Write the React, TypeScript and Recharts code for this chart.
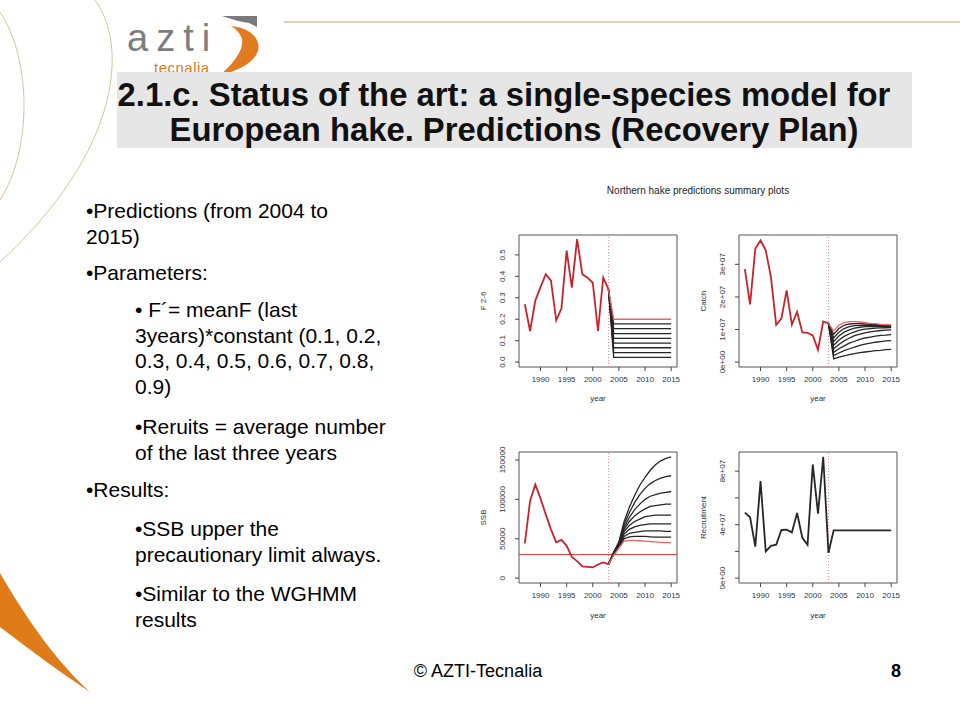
import React from "react";
import {
  LineChart,
  Line,
  XAxis,
  YAxis,
  ReferenceLine,
  ReferenceArea,
} from "recharts";

// years
const histYears = [1987, 1988, 1989, 1990, 1991, 1992, 1993, 1994, 1995, 1996, 1997, 1998, 1999, 2000, 2001, 2002, 2003];
const projYears = [2004, 2005, 2006, 2007, 2008, 2009, 2010, 2011, 2012, 2013, 2014, 2015];
const xTicks = [1990, 1995, 2000, 2005, 2010, 2015];

// F 2-6
const fHist = [0.27, 0.145, 0.287, 0.35, 0.41, 0.38, 0.195, 0.25, 0.52, 0.347, 0.574, 0.41, 0.394, 0.37, 0.145, 0.394, 0.34];
const fLevels = [0.022, 0.044, 0.067, 0.089, 0.111, 0.133, 0.156, 0.178, 0.2];
const fTicks = [0, 0.1, 0.2, 0.3, 0.4, 0.5];
const fTickLabels = ["0.0", "0.1", "0.2", "0.3", "0.4", "0.5"];

// Catch
const catchHist = [2.85e7, 1.77e7, 3.48e7, 3.74e7, 3.43e7, 2.6e7, 1.14e7, 1.34e7, 2.2e7, 1.15e7, 1.54e7, 0.91e7, 0.9e7, 0.82e7, 0.38e7, 1.25e7, 1.19e7];
const catchProj = [
  [0.10e7, 0.15e7, 0.19e7, 0.23e7, 0.26e7, 0.29e7, 0.31e7, 0.33e7, 0.35e7, 0.36e7, 0.38e7, 0.39e7],
  [0.20e7, 0.28e7, 0.35e7, 0.41e7, 0.46e7, 0.51e7, 0.55e7, 0.58e7, 0.61e7, 0.63e7, 0.65e7, 0.66e7],
  [0.30e7, 0.41e7, 0.50e7, 0.58e7, 0.64e7, 0.70e7, 0.74e7, 0.77e7, 0.80e7, 0.82e7, 0.83e7, 0.845e7],
  [0.41e7, 0.54e7, 0.65e7, 0.74e7, 0.81e7, 0.86e7, 0.90e7, 0.93e7, 0.95e7, 0.97e7, 0.98e7, 0.99e7],
  [0.52e7, 0.67e7, 0.79e7, 0.87e7, 0.93e7, 0.98e7, 1.01e7, 1.03e7, 1.04e7, 1.05e7, 1.055e7, 1.06e7],
  [0.63e7, 0.80e7, 0.92e7, 0.99e7, 1.04e7, 1.07e7, 1.09e7, 1.09e7, 1.09e7, 1.09e7, 1.09e7, 1.09e7],
  [0.74e7, 0.92e7, 1.03e7, 1.09e7, 1.12e7, 1.13e7, 1.13e7, 1.13e7, 1.12e7, 1.12e7, 1.11e7, 1.11e7],
  [0.85e7, 1.03e7, 1.13e7, 1.17e7, 1.18e7, 1.18e7, 1.17e7, 1.16e7, 1.15e7, 1.14e7, 1.13e7, 1.13e7],
  [0.96e7, 1.13e7, 1.21e7, 1.24e7, 1.24e7, 1.23e7, 1.21e7, 1.19e7, 1.18e7, 1.16e7, 1.15e7, 1.14e7],
];
const catchTicks = [0, 1e7, 2e7, 3e7];
const catchTickLabels = ["0e+00", "1e+07", "2e+07", "3e+07"];

// SSB
const ssbHist = [44000, 98000, 119000, 101000, 81000, 62000, 45500, 48500, 41000, 26800, 21700, 14900, 14300, 13600, 17400, 20000, 17800];
const ssbProj = [
  [33000, 46000, 72000, 90000, 105000, 118000, 128000, 137000, 144000, 149000, 152000, 154000],
  [32500, 45000, 68000, 83000, 96000, 106000, 114000, 120000, 124000, 127000, 129000, 130000],
  [32000, 44000, 65000, 77000, 87000, 94000, 100000, 104000, 106000, 108000, 109000, 110000],
  [31500, 43000, 62000, 72000, 79000, 84000, 88000, 91000, 92000, 93000, 94000, 94000],
  [31000, 42000, 59000, 67000, 72000, 75000, 78000, 79000, 80000, 80000, 80000, 80000],
  [30500, 41000, 56000, 62000, 65000, 67000, 68000, 69000, 69000, 69000, 69000, 69000],
  [30000, 40000, 53000, 57000, 58000, 59000, 60000, 60000, 60000, 60000, 59500, 59500],
  [29500, 39000, 50000, 52500, 53000, 53000, 53000, 52500, 52000, 52000, 52000, 52000],
  [29000, 38000, 47000, 48000, 48000, 47500, 47000, 46500, 46000, 45500, 45000, 45000],
];
const ssbLimit = 30000;
const ssbTicks = [0, 50000, 100000, 150000];
const ssbTickLabels = ["0", "50000", "100000", "150000"];

// Recruitment
const recHist = [4.9e7, 4.55e7, 2.35e7, 7.25e7, 2.0e7, 2.42e7, 2.5e7, 3.6e7, 3.62e7, 3.42e7, 4.87e7, 3.02e7, 2.5e7, 8.5e7, 4.82e7, 9.07e7, 1.9e7];
const recProj = [3.57e7, 3.57e7, 3.57e7, 3.57e7, 3.57e7, 3.57e7, 3.57e7, 3.57e7, 3.57e7, 3.57e7, 3.57e7, 3.57e7];
const recTicks = [0, 2e7, 4e7, 6e7, 8e7];
const recTickLabels = ["0e+00", "", "4e+07", "", "8e+07"];

const xDomain: [number, number] = [1985.88, 2016.12];
const FONT = "'Liberation Sans', Arial, Helvetica, sans-serif";
const RED_HIST = "#c8232c";
const RED_PROJ = "#ec6464";
const BLACK = "#262626";

type Row = { year: number; [k: string]: number | undefined };

function buildRows(hist: number[], proj: number[][]): Row[] {
  const last = hist[hist.length - 1];
  const rows: Row[] = histYears.map((y, i) => ({ year: y, hist: hist[i] }));
  const lastRow = rows[rows.length - 1];
  proj.forEach((_, k) => {
    lastRow["s" + k] = last;
  });
  projYears.forEach((y, i) => {
    const r: Row = { year: y };
    proj.forEach((p, k) => {
      r["s" + k] = p[i];
    });
    rows.push(r);
  });
  return rows;
}

const fRows = buildRows(fHist, fLevels.map((l) => projYears.map(() => l)));
const catchRows = buildRows(catchHist, catchProj);
const ssbRows = buildRows(ssbHist, ssbProj);
const recRows = buildRows(recHist, [recProj]);

const YTick = (props: any) => {
  const { x, y, payload, ticks, labels } = props;
  const idx = ticks.indexOf(payload.value);
  const tx = x - 10;
  return (
    <text
      x={tx}
      y={y}
      transform={`rotate(-90 ${tx} ${y})`}
      textAnchor="middle"
      dominantBaseline="central"
      fontSize={8}
      fill="#333"
    >
      {labels[idx]}
    </text>
  );
};

type PanelProps = {
  left: number;
  top: number;
  xAxisH: number;
  rows: Row[];
  nProj: number;
  yDomain: [number, number];
  yTicks: number[];
  yLabels: string[];
  yLabel: string;
  refY?: number;
  histBlack?: boolean;
};

function Panel({ left, top, xAxisH, rows, nProj, yDomain, yTicks, yLabels, yLabel, refY, histBlack }: PanelProps) {
  const proj = Array.from({ length: nProj }, (_, k) => k);
  return (
    <div style={{ position: "absolute", left, top, fontFamily: FONT }}>
      <LineChart width={215} height={185} data={rows} margin={{ top: 10, right: 8, bottom: 0, left: 0 }}>
        <XAxis
          dataKey="year"
          type="number"
          domain={xDomain}
          ticks={xTicks}
          interval={0}
          allowDataOverflow
          axisLine={false}
          tickLine={{ stroke: "#444" }}
          tickSize={4}
          tickMargin={5}
          height={xAxisH}
          tick={{ fontSize: 8, fill: "#333" }}
          label={{ value: "year", position: "center", dy: 10, fontSize: 8, fill: "#333" }}
        />
        <YAxis
          type="number"
          domain={yDomain}
          ticks={yTicks}
          interval={0}
          allowDataOverflow
          axisLine={false}
          tickLine={{ stroke: "#444" }}
          tickSize={4}
          width={49}
          tick={(p: any) => <YTick {...p} ticks={yTicks} labels={yLabels} />}
          label={{ value: yLabel, angle: -90, position: "center", dx: -11, fontSize: 8, fill: "#333" }}
        />
        {refY !== undefined && <ReferenceLine y={refY} stroke="#e03c3c" strokeWidth={1} />}
        <ReferenceLine x={2003} stroke="#e58a8a" strokeDasharray="1 2" />
        {proj.map((k) => (
          <Line
            key={k}
            dataKey={"s" + k}
            type="linear"
            dot={false}
            stroke={histBlack ? BLACK : k === nProj - 1 ? RED_PROJ : BLACK}
            strokeWidth={histBlack ? 1.8 : 1.3}
            isAnimationActive={false}
          />
        ))}
        <Line
          dataKey="hist"
          type="linear"
          dot={false}
          stroke={histBlack ? BLACK : RED_HIST}
          strokeWidth={1.8}
          isAnimationActive={false}
        />
        <ReferenceArea
          x1={xDomain[0]}
          x2={xDomain[1]}
          y1={yDomain[0]}
          y2={yDomain[1]}
          fill="none"
          fillOpacity={0}
          stroke="#555"
          strokeWidth={1}
        />
      </LineChart>
    </div>
  );
}

const abs = (left: number, top: number, extra: React.CSSProperties = {}): React.CSSProperties => ({
  position: "absolute",
  left,
  top,
  whiteSpace: "nowrap",
  ...extra,
});

const bullets = [
  { left: 86, top: 198, lines: ["•Predictions (from 2004 to", "2015)"] },
  { left: 86, top: 260, lines: ["•Parameters:"] },
  { left: 135, top: 297, lines: ["• F´= meanF (last", "3years)*constant (0.1, 0.2,", "0.3, 0.4, 0.5, 0.6, 0.7, 0.8,", "0.9)"] },
  { left: 135, top: 414, lines: ["•Reruits = average number", "of the last three years"] },
  { left: 86, top: 477, lines: ["•Results:"] },
  { left: 135, top: 516, lines: ["•SSB upper the", "precautionary limit always."] },
  { left: 135, top: 581, lines: ["•Similar to the WGHMM", "results"] },
];

export default function App() {
  return (
    <div style={{ position: "absolute", left: 0, top: 0, width: 960, height: 720, background: "#fff", overflow: "hidden", fontFamily: FONT }}>
      <svg width={960} height={720} style={{ position: "absolute", left: 0, top: 0 }}>
        <path d="M 95 0 C 128 45, 122 150, 0 262" fill="none" stroke="#d9c49a" strokeWidth={1} />
        <path d="M 0 12 C 32 60, 32 150, 0 200" fill="none" stroke="#d9c49a" strokeWidth={1} />
        <path d="M 0 573 C 30 625, 60 665, 90 692 C 60 672, 30 650, 0 627 Z" fill="#e07b1a" />
        <line x1={284} y1={22} x2={960} y2={22} stroke="#d3c39c" strokeWidth={1.5} />
        <path d="M 222 16 L 257 16 L 257 27 L 249 23 L 238 21 Z" fill="#7a7a7a" />
        <path d="M 231 26 C 251 28, 261 39, 258 51 C 254 63, 237 71, 219 76 C 233 64, 244 51, 242 39 C 240 33, 236 29, 231 26 Z" fill="#e07b20" />
      </svg>

      <div style={abs(127, 19, { fontSize: 38, lineHeight: "38px", color: "#7d7d7d", letterSpacing: 8 })}>azti</div>
      <div style={abs(154, 61, { fontSize: 15, lineHeight: "13px", color: "#e07b20", letterSpacing: 0.5 })}>tecnalia</div>

      <div style={abs(117, 72, { width: 795, height: 76, background: "#e6e6e6" })} />
      <div style={abs(104, 77, { width: 800, textAlign: "center", fontSize: 32.8, lineHeight: "35px", fontWeight: "bold", color: "#111" })}>
        2.1.c. Status of the art: a single-species model for
      </div>
      <div style={abs(114, 112, { width: 800, textAlign: "center", fontSize: 32.8, lineHeight: "35px", fontWeight: "bold", color: "#111" })}>
        European hake. Predictions (Recovery Plan)
      </div>

      {bullets.map((b, i) => (
        <div key={i} style={abs(b.left, b.top, { fontSize: 21, lineHeight: "25.7px", color: "#000" })}>
          {b.lines.map((l, j) => (
            <div key={j}>{l}</div>
          ))}
        </div>
      ))}

      <div style={abs(598, 185, { width: 200, textAlign: "center", fontSize: 10, lineHeight: "12px", color: "#222" })}>
        Northern hake predictions summary plots
      </div>

      <Panel left={470} top={225} xAxisH={43} rows={fRows} nProj={fLevels.length} yDomain={[-0.0228, 0.5928]} yTicks={fTicks} yLabels={fTickLabels} yLabel="F 2-6" />
      <Panel left={690} top={225} xAxisH={43} rows={catchRows} nProj={catchProj.length} yDomain={[-0.15e7, 3.9e7]} yTicks={catchTicks} yLabels={catchTickLabels} yLabel="Catch" />
      <Panel left={470} top={442} xAxisH={44} rows={ssbRows} nProj={ssbProj.length} yDomain={[-6160, 160160]} yTicks={ssbTicks} yLabels={ssbTickLabels} yLabel="SSB" refY={ssbLimit} />
      <Panel left={690} top={442} xAxisH={44} rows={recRows} nProj={1} yDomain={[-0.363e7, 9.43e7]} yTicks={recTicks} yLabels={recTickLabels} yLabel="Recruitment" histBlack />

      <div style={abs(378, 660, { width: 200, textAlign: "center", fontSize: 18, lineHeight: "22px", color: "#000" })}>© AZTI-Tecnalia</div>
      <div style={abs(886, 660, { width: 20, textAlign: "center", fontSize: 18, lineHeight: "22px", fontWeight: "bold", color: "#000" })}>8</div>
    </div>
  );
}
